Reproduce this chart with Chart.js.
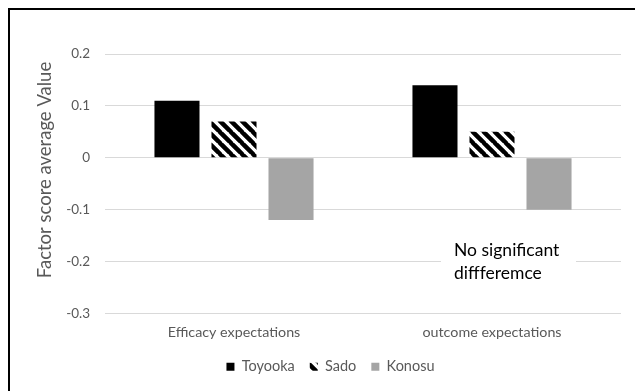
<!DOCTYPE html>
<html>
<head>
<meta charset="utf-8">
<script src="https://cdn.jsdelivr.net/npm/chart.js@4/dist/chart.umd.min.js"></script>
<style>
  html, body { margin: 0; padding: 0; background: #fff; }
  #wrap { position: relative; width: 635px; height: 391px; }
</style>
</head>
<body>
<div id="wrap"><canvas id="c" width="635" height="391"></canvas></div>
<script>
// Factor score averages by region
const categories = ['Efficacy expectations', 'outcome expectations'];
const seriesNames = ['Toyooka', 'Sado', 'Konosu'];
const toyooka = [0.11, 0.14];
const sado = [0.07, 0.05];
const konosu = [-0.12, -0.10];
const yTicks = [0.2, 0.1, 0, -0.1, -0.2, -0.3];
const yTitle = 'Factor score average Value';
const noteLines = ['No significant', 'diffferemce'];

const FONT = 'Lato, "Open Sans", "Liberation Sans", sans-serif';

// Black diagonal stripes on white for the Sado series
function stripePattern() {
  const s = 11;
  const tile = document.createElement('canvas');
  tile.width = s; tile.height = s;
  const g = tile.getContext('2d');
  g.fillStyle = '#fff';
  g.fillRect(0, 0, s, s);
  g.strokeStyle = '#000';
  g.lineWidth = 4.5;
  g.beginPath();
  g.moveTo(-1, -1); g.lineTo(s + 1, s + 1);
  g.moveTo(-s - 1, -1); g.lineTo(1, s + 1);
  g.moveTo(s - 1, -1); g.lineTo(2 * s + 1, s + 1);
  g.stroke();
  return tile.getContext('2d').createPattern(tile, 'repeat');
}

// Frame lines along the top and left edges
const framePlugin = {
  id: 'frame',
  afterDraw(chart) {
    const ctx = chart.ctx;
    ctx.save();
    ctx.strokeStyle = '#000';
    ctx.lineWidth = 2;
    ctx.beginPath();
    ctx.moveTo(9, chart.height);
    ctx.lineTo(9, 9);
    ctx.lineTo(chart.width, 9);
    ctx.stroke();
    ctx.restore();
  }
};

// Vertical axis title
const yTitlePlugin = {
  id: 'yTitle',
  afterDraw(chart) {
    const ctx = chart.ctx;
    ctx.save();
    ctx.translate(45, 170);
    ctx.rotate(-Math.PI / 2);
    ctx.font = '18.5px ' + FONT;
    ctx.fillStyle = '#595959';
    ctx.textAlign = 'center';
    ctx.textBaseline = 'middle';
    ctx.fillText(yTitle, 0, 0);
    ctx.restore();
  }
};

// Text note over the second category
const notePlugin = {
  id: 'note',
  afterDatasetsDraw(chart) {
    const ctx = chart.ctx;
    const cx = chart.scales.x.getPixelForValue(1) + 15;
    const cy = chart.scales.y.getPixelForValue(-0.2);
    ctx.save();
    ctx.fillStyle = '#fff';
    ctx.fillRect(cx - 66, cy - 22, 135, 44);
    ctx.font = '17.5px ' + FONT;
    ctx.fillStyle = '#000';
    ctx.textAlign = 'left';
    ctx.textBaseline = 'middle';
    ctx.fillText(noteLines[0], cx - 53, cy - 11);
    ctx.fillText(noteLines[1], cx - 53, cy + 12);
    ctx.restore();
  }
};

new Chart(document.getElementById('c'), {
  type: 'bar',
  data: {
    labels: categories,
    datasets: [
      { label: seriesNames[0], data: toyooka, backgroundColor: '#000000' },
      { label: seriesNames[1], data: sado, backgroundColor: stripePattern() },
      { label: seriesNames[2], data: konosu, backgroundColor: '#a5a5a5' }
    ]
  },
  options: {
    responsive: false,
    animation: false,
    devicePixelRatio: 1,
    categoryPercentage: 0.663,
    barPercentage: 0.79,
    layout: { padding: { left: 40, right: 14, top: 54, bottom: 7 } },
    plugins: {
      tooltip: { enabled: false },
      legend: {
        position: 'bottom',
        labels: {
          boxWidth: 8, boxHeight: 8, padding: 15,
          color: '#595959',
          font: { family: FONT, size: 14.5 }
        }
      }
    },
    scales: {
      x: {
        grid: { display: false, drawTicks: false },
        border: { display: false },
        ticks: { color: '#595959', padding: 10, font: { family: FONT, size: 14.3 } },
        afterFit(scale) { scale.height = 31; }
      },
      y: {
        min: -0.3, max: 0.2,
        grid: { color: '#d9d9d9', drawTicks: false },
        border: { display: false },
        ticks: {
          color: '#595959', padding: 15,
          font: { family: FONT, size: 13.5 },
          callback: v => String(v)
        },
        afterBuildTicks(scale) { scale.ticks = yTicks.map(v => ({ value: v })); },
        afterFit(scale) { scale.width = 65; }
      }
    }
  },
  plugins: [framePlugin, yTitlePlugin, notePlugin]
});
</script>
</body>
</html>
